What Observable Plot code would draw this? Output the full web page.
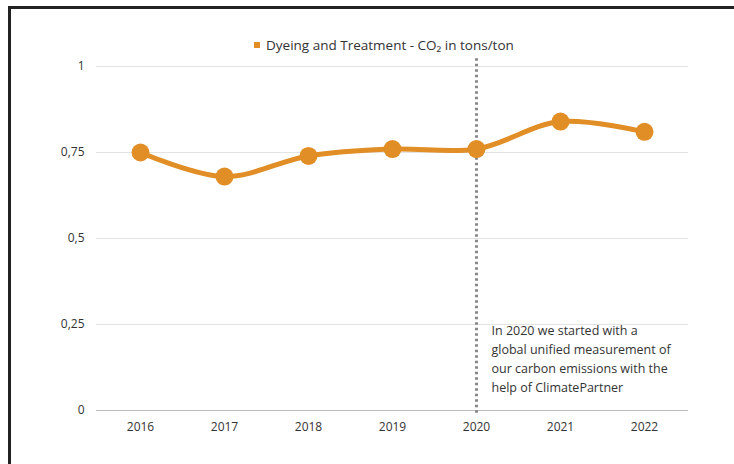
<!DOCTYPE html>
<html>
<head>
<meta charset="utf-8">
<script src="https://cdn.jsdelivr.net/npm/d3@7"></script>
<script src="https://cdn.jsdelivr.net/npm/@observablehq/plot@0.6"></script>
<style>
  html, body { margin: 0; padding: 0; background: #fff; }
  #wrap { position: relative; width: 734px; height: 464px; overflow: hidden; font-family: "Open Sans", sans-serif; }
  #frame { position: absolute; left: 8px; top: 6px; width: 740px; height: 470px; border-top: 3px solid #222; border-left: 3px solid #222; box-sizing: border-box; pointer-events: none; }
  #legend { height: 58px; position: relative; font-size: 13.5px; color: #333; }
  #legend span.item { position: absolute; left: 254px; top: 36px; white-space: nowrap; }
  #legend .sw { display: inline-block; width: 6px; height: 6px; background: #E08E25; margin-right: 6px; vertical-align: middle; position: relative; top: -1px; }
  svg { display: block; }
</style>
</head>
<body>
<div id="wrap">
  <div id="legend"><span class="item"><span class="sw"></span>Dyeing and Treatment - CO₂ in tons/ton</span></div>
  <div id="chart"></div>
  <div id="frame"></div>
</div>
<script>
const years = ["2016", "2017", "2018", "2019", "2020", "2021", "2022"];
const values = [0.75, 0.68, 0.74, 0.76, 0.76, 0.84, 0.81];
const yTicks = [0, 0.25, 0.5, 0.75, 1];
const yTickLabels = ["0", "0,25", "0,5", "0,75", "1"];
const markerYear = "2020";
const note = "In 2020 we started with a\nglobal unified measurement of\nour carbon emissions with the\nhelp of ClimatePartner";

const data = years.map((y, i) => ({year: y, value: values[i]}));
const orange = "#E08E25";

const chart = Plot.plot({
  width: 734,
  height: 406,
  marginTop: 8,
  marginBottom: 54,
  marginLeft: 96,
  marginRight: 46,
  style: {fontFamily: "Open Sans, sans-serif", fontSize: "12px", color: "#333", background: "transparent"},
  x: {type: "point", domain: years, padding: 0.5, label: null, tickSize: 0, tickPadding: 12},
  y: {domain: [0, 1], ticks: yTicks, tickFormat: (d) => yTickLabels[yTicks.indexOf(d)], label: null, tickSize: 0, tickPadding: 12},
  marks: [
    Plot.ruleY(yTicks.filter(d => d > 0), {stroke: "#e4e4e4", strokeWidth: 1}),
    Plot.ruleY([0], {stroke: "#bdbdbd", strokeWidth: 1}),
    Plot.ruleX([markerYear], {y1: -0.008, y2: 1.055, stroke: "#888", strokeWidth: 3, strokeDasharray: "2.5,3"}),
    Plot.line(data, {x: "year", y: "value", stroke: orange, strokeWidth: 5, curve: "catmull-rom"}),
    Plot.dot(data, {x: "year", y: "value", r: 9, fill: orange, stroke: "none"}),
    Plot.text([note], {x: () => markerYear, y: () => 0.257, text: d => d, dx: 15, textAnchor: "start", lineAnchor: "top", lineHeight: 1.5, fontSize: 12.5, fill: "#333"})
  ]
});
document.getElementById("chart").appendChild(chart);
</script>
</body>
</html>
